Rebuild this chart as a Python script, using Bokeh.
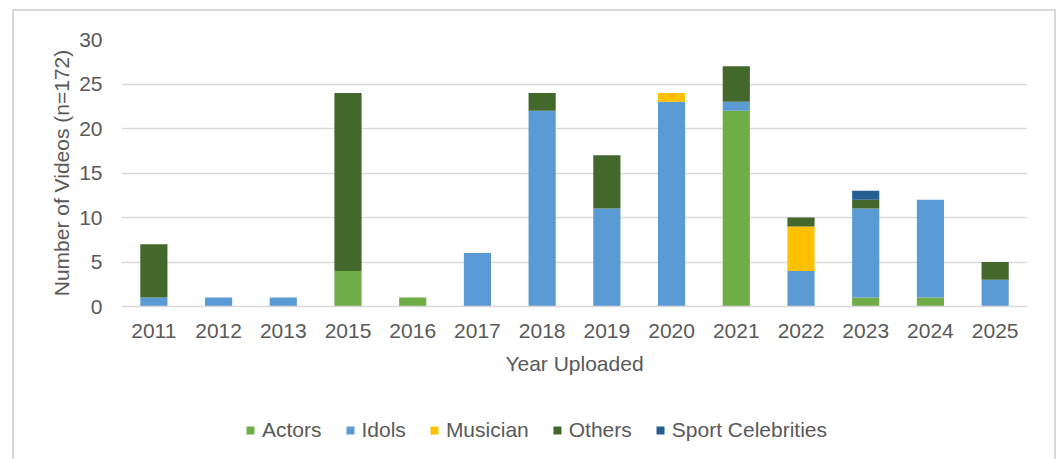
from bokeh.plotting import figure
from bokeh.models import FactorRange, Range1d, Legend, LegendItem, FixedTicker, ColumnDataSource
from bokeh.layouts import column
from bokeh.embed import file_html
from bokeh.resources import INLINE

years = ["2011", "2012", "2013", "2015", "2016", "2017", "2018", "2019",
         "2020", "2021", "2022", "2023", "2024", "2025"]
actors = [0, 0, 0, 4, 1, 0, 0, 0, 0, 22, 0, 1, 1, 0]
idols = [1, 1, 1, 0, 0, 6, 22, 11, 23, 1, 4, 10, 11, 3]
musician = [0, 0, 0, 0, 0, 0, 0, 0, 1, 0, 5, 0, 0, 0]
others = [6, 0, 0, 20, 0, 0, 2, 6, 0, 4, 1, 1, 0, 2]
sport = [0, 0, 0, 0, 0, 0, 0, 0, 0, 0, 0, 1, 0, 0]
series = ["Actors", "Idols", "Musician", "Others", "Sport Celebrities"]
colors = ["#70AD47", "#5B9BD5", "#FFC000", "#43682B", "#255E91"]
y_ticks = [0, 5, 10, 15, 20, 25, 30]

FONT = "Liberation Sans"
FS = "21px"
TXT = "#595959"
GRID = "#D9D9D9"

src = ColumnDataSource(dict(year=years, Actors=actors, Idols=idols, Musician=musician,
                            Others=others, **{"Sport Celebrities": sport}))

p = figure(width=1060, height=400, output_backend="svg", toolbar_location=None,
           x_range=FactorRange(*years, range_padding=0), y_range=Range1d(0, 30),
           min_border_left=121, min_border_right=33, min_border_top=39, min_border_bottom=94)
p.outline_line_color = None
p.background_fill_color = "white"
p.border_fill_color = "white"

p.vbar_stack(series, x="year", width=0.42, source=src, color=colors, line_color=None)

p.xgrid.grid_line_color = None
p.ygrid.grid_line_color = GRID
p.ygrid.grid_line_width = 1.5
p.yaxis.ticker = FixedTicker(ticks=y_ticks)

for ax in (p.xaxis[0], p.yaxis[0]):
    ax.major_label_text_font = FONT
    ax.major_label_text_font_size = FS
    ax.major_label_text_color = TXT
    ax.axis_label_text_font = FONT
    ax.axis_label_text_font_size = FS
    ax.axis_label_text_color = TXT
    ax.axis_label_text_font_style = "normal"
    ax.major_tick_line_color = None
    ax.minor_tick_line_color = None
    ax.major_tick_out = 0
    ax.major_tick_in = 0

p.xaxis.axis_label = "Year Uploaded"
p.xaxis.axis_line_color = GRID
p.xaxis.axis_line_width = 1.5
p.xaxis.major_label_standoff = 17
p.xaxis.axis_label_standoff = 11
p.yaxis.axis_label = "Number of Videos (n=172)"
p.yaxis.axis_line_color = None
p.yaxis.major_label_standoff = 19
p.yaxis.axis_label_standoff = 3

# legend strip below the chart (swatch renderers hold a single zero-height bar each)
lg = figure(width=1060, height=59, output_backend="svg", toolbar_location=None,
            x_range=Range1d(0, 1), y_range=Range1d(0, 1),
            x_axis_location=None, y_axis_location=None,
            min_border_left=0, min_border_right=0, min_border_top=0, min_border_bottom=0)
lg.outline_line_color = None
lg.grid.visible = False
lg.background_fill_alpha = 0
lg.border_fill_alpha = 0
swatch_src = ColumnDataSource(dict(x=[-5], top=[0]))
swatches = [lg.vbar(x="x", top="top", width=0.001, source=swatch_src, fill_color=c, line_color=None)
            for c in colors]

legend = Legend(items=[LegendItem(label=s, renderers=[r]) for s, r in zip(series, swatches)],
                orientation="horizontal", location=(124, 17),
                label_text_font=FONT, label_text_font_size=FS, label_text_color=TXT,
                glyph_width=10, glyph_height=10, label_standoff=7, spacing=23,
                padding=0, margin=0, border_line_color=None, background_fill_alpha=0)
lg.add_layout(legend, "center")

layout = column(p, lg, spacing=0)
layout.stylesheets = [""":host { position: relative; }
:host::after { content: ''; position: absolute; left: 12px; top: 9px; width: 1044px; height: 470px;
  border: 2px solid #D9D9D9; pointer-events: none; box-sizing: border-box; }"""]

open("out.html", "w").write(file_html(layout, INLINE))
